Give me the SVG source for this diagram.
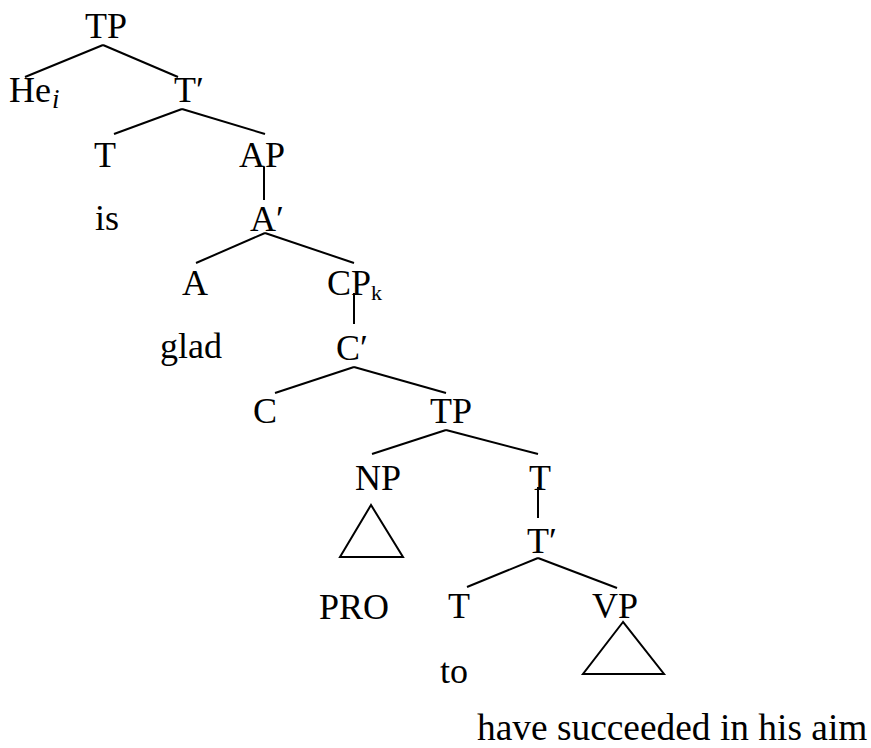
<svg xmlns="http://www.w3.org/2000/svg" width="871" height="748" viewBox="0 0 871 748">
  <style>
    text { font-family: "Liberation Serif", "Times New Roman", serif; font-size: 36px; fill: #000; }
    .sub { font-size: 22px; }
    .isub { font-size: 27px; font-style: italic; }
    .yield { font-size: 37.4px; }
    .edge { stroke: #000; stroke-width: 2; fill: none; }
  </style>
  <rect width="871" height="748" fill="#fff"/>

  <!-- branches -->
  <g id="connectors">
    <line class="edge" x1="103" y1="45" x2="25" y2="77"/>
    <line class="edge" x1="103" y1="45" x2="178" y2="77"/>
    <line class="edge" x1="182" y1="109" x2="114" y2="134"/>
    <line class="edge" x1="182" y1="109" x2="265" y2="134"/>
    <line class="edge" x1="264" y1="167" x2="264" y2="200"/>
    <line class="edge" x1="265" y1="233" x2="196" y2="263"/>
    <line class="edge" x1="265" y1="233" x2="354" y2="263"/>
    <line class="edge" x1="354" y1="293" x2="354" y2="324"/>
    <line class="edge" x1="354" y1="367" x2="275" y2="393"/>
    <line class="edge" x1="354" y1="367" x2="446" y2="393"/>
    <line class="edge" x1="446" y1="430" x2="372" y2="454"/>
    <line class="edge" x1="446" y1="430" x2="538" y2="454"/>
    <line class="edge" x1="538" y1="487" x2="538" y2="518"/>
    <line class="edge" x1="538" y1="558" x2="467" y2="587"/>
    <line class="edge" x1="538" y1="558" x2="617" y2="588"/>
    <polygon class="edge" points="371,505 340,557 403,557"/>
    <polygon class="edge" points="623,622 583,674 664,674"/>
  </g>

  <!-- nodes -->
  <g id="tp1"><text x="85" y="38">TP</text></g>
  <g id="he"><text x="9" y="102">He</text><text class="isub" x="52" y="108">i</text></g>
  <g id="tbar1"><text x="174" y="102">T′</text></g>
  <g id="t1"><text x="94" y="167">T</text></g>
  <g id="ap"><text x="239" y="167">AP</text></g>
  <g id="is"><text x="95" y="230">is</text></g>
  <g id="abar"><text x="250" y="231">A′</text></g>
  <g id="a"><text x="182" y="295">A</text></g>
  <g id="cp"><text x="327" y="295">CP</text><text class="sub" x="371" y="300">k</text></g>
  <g id="glad"><text x="160" y="358">glad</text></g>
  <g id="cbar"><text x="336" y="360">C′</text></g>
  <g id="c"><text x="253" y="423">C</text></g>
  <g id="tp2"><text x="430" y="423">TP</text></g>
  <g id="np"><text x="355" y="490">NP</text></g>
  <g id="t2"><text x="529" y="490">T</text></g>
  <g id="tbar2"><text x="527" y="553">T′</text></g>
  <g id="pro"><text x="319" y="619">PRO</text></g>
  <g id="t3"><text x="448" y="618">T</text></g>
  <g id="vp"><text x="592" y="618">VP</text></g>
  <g id="to"><text x="440" y="683">to</text></g>
  <g id="vp-yield"><text class="yield" x="477" y="740">have succeeded in his aim</text></g>
</svg>
